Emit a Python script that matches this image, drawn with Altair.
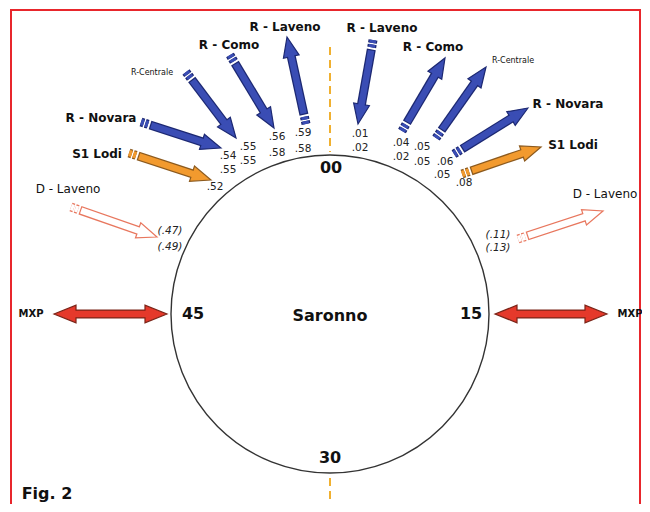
import math
import altair as alt
import pandas as pd

# ---------------- content ----------------
route_names = ["R - Laveno", "R - Como", "R-Centrale", "R - Novara", "S1 Lodi", "D - Laveno"]
route_kind = ["blue", "blue", "blue", "blue", "orange", "outline"]
left_time_a = [".59", ".56", ".55", ".54", ".52", "(.47)"]
left_time_b = [".58", ".58", ".55", ".55", "", "(.49)"]
right_time_a = [".01", ".04", ".05", ".06", ".08", "(.11)"]
right_time_b = [".02", ".02", ".05", ".05", "", "(.13)"]
clock_labels = ["00", "15", "30", "45"]
station = "Saronno"
airport = "MXP"
fig_label = "Fig. 2"

# ---------------- layout (diagram coordinates) ----------------
left_tail = [(306, 124), (230, 55), (186, 72), (141, 122), (129, 153), (71, 207)]
left_tip = [(287, 37), (274, 128), (236, 138), (221, 148), (211, 180), (157, 237)]
right_tail = [(373, 40), (402, 131), (436, 138), (454, 154), (462, 174), (518, 239)]
right_tip = [(358, 124), (445, 58), (486, 67), (528, 108), (541, 147), (603, 211)]
left_label_pos = [(285, 27), (229, 45), (152, 73), (101, 118), (97, 154), (68, 189)]
right_label_pos = [(382, 28), (433, 47), (513, 61), (568, 104), (573, 145), (605, 194)]
left_time_a_pos = [(303, 133), (277, 137), (248, 147), (228, 156), (215, 187), (170, 231)]
left_time_b_pos = [(303, 149), (277, 153), (248, 161), (228, 170), (0, 0), (170, 247)]
right_time_a_pos = [(360, 134), (401, 143), (422, 147), (445, 162), (464, 183), (498, 235)]
right_time_b_pos = [(360, 148), (401, 157), (422, 162), (442, 175), (0, 0), (498, 248)]
clock_pos = [(331, 168), (471, 314), (330, 458), (193, 314)]
circle_center = (330, 314)
circle_diam = 318
mxp_spans = [(54, 167), (495, 607)]
mxp_y = 314
mxp_text_pos = [(31, 314), (630, 314)]

fills = {"blue": "#3a4db4", "orange": "#f29a2e", "outline": "#ffffff", "red": "#e5392b"}
strokes = {"blue": "#1c2872", "orange": "#8c5a1e", "outline": "#e8775e", "red": "#7a2418"}
HEAD = "M0,-1L0.8,1L-0.8,1Z"

X0, X1, Y0, Y1 = 8, 642, 8, 504
W, H = X1 - X0, Y1 - Y0
xs = alt.Scale(domain=[X0, X1], nice=False, zero=False)
ys = alt.Scale(domain=[Y0, Y1], nice=False, zero=False, reverse=True)


def X(f="x"):
    return alt.X(f"{f}:Q", scale=xs, axis=None)


def Y(f="y"):
    return alt.Y(f"{f}:Q", scale=ys, axis=None)


def X2(f="x2"):
    return alt.X2(f"{f}:Q")


def Y2(f="y2"):
    return alt.Y2(f"{f}:Q")


outer, inner, dash_o, dash_i, heads = [], [], [], [], []
for tails, tips in ((left_tail, left_tip), (right_tail, right_tip)):
    for k, (t, p) in enumerate(zip(tails, tips)):
        kind = route_kind[k]
        dx, dy = p[0] - t[0], p[1] - t[1]
        L = math.hypot(dx, dy)
        ux, uy = dx / L, dy / L
        ang = (math.degrees(math.atan2(dx, -dy)) + 360) % 360
        pt = lambda d: (t[0] + ux * d, t[1] + uy * d)
        a, b = pt(0), pt(8)
        dash_o.append(dict(x=a[0], y=a[1], x2=b[0], y2=b[1], s=strokes[kind]))
        dash_i.append(dict(x=a[0], y=a[1], x2=b[0], y2=b[1], s=fills[kind]))
        a, b = pt(9.5), pt(L - 19)
        outer.append(dict(x=a[0], y=a[1], x2=b[0], y2=b[1], s=strokes[kind]))
        c = pt(L - 16)
        inner.append(dict(x=a[0] + ux * 1.2, y=a[1] + uy * 1.2, x2=c[0], y2=c[1], s=fills[kind]))
        h = pt(L - 10)
        heads.append(dict(x=h[0], y=h[1], a=ang, f=fills[kind], s=strokes[kind], size=400))

# MXP double arrows
mx_outer, mx_inner = [], []
for (xa, xb) in mxp_spans:
    mx_outer.append(dict(x=xa + 20, y=mxp_y, x2=xb - 20, y2=mxp_y, s=strokes["red"]))
    mx_inner.append(dict(x=xa + 18, y=mxp_y, x2=xb - 18, y2=mxp_y, s=fills["red"]))
    heads.append(dict(x=xa + 11, y=mxp_y, a=270, f=fills["red"], s=strokes["red"], size=484))
    heads.append(dict(x=xb - 11, y=mxp_y, a=90, f=fills["red"], s=strokes["red"], size=484))

df_outer = pd.DataFrame(outer + mx_outer)
df_inner = pd.DataFrame(inner + mx_inner)
df_dash_o = pd.DataFrame(dash_o)
df_dash_i = pd.DataFrame(dash_i)
df_heads = pd.DataFrame(heads)

# texts
bold_lbl, small_lbl, reg_lbl = [], [], []
for names_pos in (left_label_pos, right_label_pos):
    for k, pos in enumerate(names_pos):
        row = dict(x=pos[0], y=pos[1], t=route_names[k])
        if route_names[k] == "R-Centrale":
            small_lbl.append(row)
        elif route_kind[k] == "outline":
            reg_lbl.append(row)
        else:
            bold_lbl.append(row)

nums, inums = [], []
for vals, poss in ((left_time_a, left_time_a_pos), (left_time_b, left_time_b_pos),
                   (right_time_a, right_time_a_pos), (right_time_b, right_time_b_pos)):
    for v, p in zip(vals, poss):
        if not v:
            continue
        row = dict(x=p[0], y=p[1], t=v)
        (inums if v.startswith("(") else nums).append(row)

clock = [dict(x=p[0], y=p[1], t=c) for c, p in zip(clock_labels, clock_pos)]
clock.append(dict(x=circle_center[0], y=circle_center[1] + 2, t=station))
mxp_txt = [dict(x=p[0], y=p[1], t=airport) for p in mxp_text_pos]

base = alt.Chart()

border = alt.Chart(pd.DataFrame([dict(x=11, y=10, x2=640, y2=530)])).mark_rect(
    fill="white", stroke="#e8262c", strokeWidth=2
).encode(x=X(), y=Y(), x2=X2(), y2=Y2())

vline = alt.Chart(pd.DataFrame([dict(x=330, y=47, x2=330, y2=152),
                                dict(x=330, y=478, x2=330, y2=530)])).mark_rule(
    color="#f0b030", strokeWidth=2, strokeDash=[8, 5]
).encode(x=X(), y=Y(), x2=X2(), y2=Y2())

circle = alt.Chart(pd.DataFrame([dict(x=circle_center[0], y=circle_center[1])])).mark_point(
    shape="circle", filled=False, stroke="#333333", strokeWidth=1.4, opacity=1
).encode(x=X(), y=Y(), size=alt.value(circle_diam ** 2))

def rules(df, width, dash=None):
    kw = dict(strokeWidth=width, strokeCap="butt")
    if dash:
        kw["strokeDash"] = dash
    return alt.Chart(df).mark_rule(**kw).encode(
        x=X(), y=Y(), x2=X2(), y2=Y2(), color=alt.Color("s:N", scale=None))

head_layer = alt.Chart(df_heads).mark_point(shape=HEAD, filled=True, strokeWidth=1.2, opacity=1).encode(
    x=X(), y=Y(), angle=alt.Angle("a:Q", scale=None),
    fill=alt.Fill("f:N", scale=None), stroke=alt.Stroke("s:N", scale=None),
    size=alt.Size("size:Q", scale=None))

def texts(rows, **kw):
    return alt.Chart(pd.DataFrame(rows)).mark_text(align="center", baseline="middle", **kw).encode(
        x=X(), y=Y(), text="t:N")

FONT = "DejaVu Sans"
chart = alt.layer(
    border,
    vline,
    circle,
    rules(df_dash_o, 9, [3, 1.5]),
    rules(df_dash_i, 6.5, [3, 1.5]),
    rules(df_outer, 9),
    head_layer,
    rules(df_inner, 6.5),
    texts(bold_lbl, font=FONT, fontSize=12, fontWeight="bold", color="#111"),
    texts(small_lbl, font=FONT, fontSize=8, color="#111"),
    texts(reg_lbl, font=FONT, fontSize=12, color="#111"),
    texts(nums, font=FONT, fontSize=10.5, color="#222"),
    texts(inums, font=FONT, fontSize=10.5, fontStyle="italic", color="#222"),
    texts(clock, font=FONT, fontSize=16, fontWeight="bold", color="#111"),
    texts(mxp_txt, font=FONT, fontSize=10, fontWeight="bold", color="#111"),
    texts([dict(x=47, y=494, t=fig_label)], font=FONT, fontSize=16, fontWeight="bold", color="#111"),
).properties(
    width=W, height=H, padding=0, background="white",
    autosize=alt.AutoSizeParams(type="none"),
).configure_view(stroke=None)

chart.save("out.html", embed_options={"renderer": "svg", "actions": False})
